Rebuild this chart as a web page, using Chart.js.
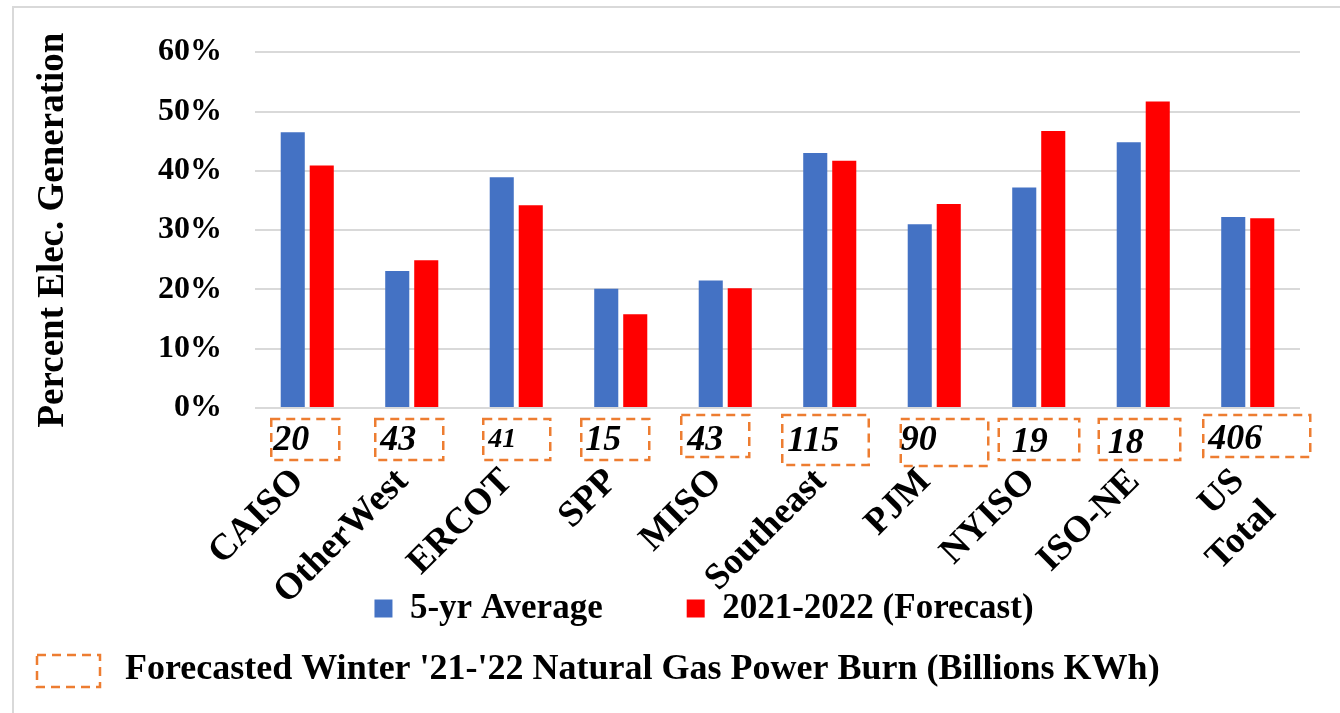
<!DOCTYPE html>
<html>
<head>
<meta charset="utf-8">
<script src="https://cdn.jsdelivr.net/npm/chart.js@4.4.1/dist/chart.umd.min.js"></script>
<style>
  html, body { margin: 0; padding: 0; background: #ffffff; }
  #wrap { width: 1340px; height: 713px; position: relative; }
</style>
</head>
<body>
<div id="wrap"><canvas id="c" width="1340" height="713"></canvas></div>
<script>
// ---- data ----
const categories = ['CAISO', 'OtherWest', 'ERCOT', 'SPP', 'MISO', 'Southeast', 'PJM', 'NYISO', 'ISO-NE', ['US', 'Total']];
const fiveYrAverage = [46.5, 23.1, 38.9, 20.1, 21.5, 43.0, 31.0, 37.2, 44.8, 32.2];
const forecast2122 = [40.9, 24.9, 34.2, 15.8, 20.2, 41.7, 34.4, 46.7, 51.7, 32.0];
const powerBurn = [20, 43, 41, 15, 43, 115, 90, 19, 18, 406];
const seriesNames = ['5-yr Average', '2021-2022 (Forecast)'];
const yTicks = [0, 10, 20, 30, 40, 50, 60];
const yTitle = 'Percent Elec. Generation';
const footnote = "Forecasted Winter '21-'22 Natural Gas Power Burn (Billions KWh)";

const SERIF = '"Liberation Serif", "Times New Roman", serif';
const ORANGE = '#ED7D31';

// layout of the dashed boxes under each category (relative to category centre)
// [leftOffset, rightOffset, top, bottom, textDx, baseline, fontSize]
const boxLayout = [
  [-36, 32, 419, 460, 2, 450, 36],
  [-36.5, 31.5, 419, 460, 5, 450, 36],
  [-33, 34, 419, 460, 5, 447, 28],
  [-39.5, 28.5, 419, 460, 4, 450, 36],
  [-44, 24, 415, 457, 6, 450, 36],
  [-47.5, 39, 415, 465, 5, 451, 36],
  [-33.5, 54, 419, 466, 0, 450, 36],
  [-40, 40.5, 419, 460, 13, 452, 36],
  [-44.5, 37, 419, 460, 9, 453, 36],
  [-44.5, 62.5, 415, 457, 5, 449, 36]
];

const decorPlugin = {
  id: 'decor',
  beforeDraw(chart) {
    const ctx = chart.ctx;
    ctx.save();
    ctx.fillStyle = '#ffffff';
    ctx.fillRect(0, 0, chart.width, chart.height);
    ctx.strokeStyle = '#d9d9d9';
    ctx.lineWidth = 2;
    ctx.beginPath();
    ctx.moveTo(13, chart.height + 5);
    ctx.lineTo(13, 7);
    ctx.lineTo(chart.width + 5, 7);
    ctx.stroke();
    ctx.restore();
  },
  afterDraw(chart) {
    const ctx = chart.ctx;
    const xs = chart.scales.x;
    ctx.save();
    ctx.strokeStyle = ORANGE;
    ctx.lineWidth = 2.5;
    ctx.setLineDash([9, 6]);
    powerBurn.forEach((v, i) => {
      const cx = xs.getPixelForValue(i);
      const [l, r, t, b, dx, base, fs] = boxLayout[i];
      ctx.strokeRect(cx + l, t, r - l, b - t);
      ctx.fillStyle = '#000000';
      ctx.font = 'italic bold ' + fs + 'px ' + SERIF;
      ctx.textBaseline = 'alphabetic';
      ctx.textAlign = 'left';
      ctx.fillText(String(v), cx + l + dx, base);
    });
    // footnote
    ctx.strokeRect(37, 655, 63, 32);
    ctx.setLineDash([]);
    ctx.fillStyle = '#000000';
    ctx.font = 'bold 36px ' + SERIF;
    ctx.textAlign = 'left';
    ctx.textBaseline = 'alphabetic';
    ctx.fillText(footnote, 125, 679);
    ctx.restore();
  }
};

new Chart(document.getElementById('c'), {
  type: 'bar',
  data: {
    labels: categories,
    datasets: [
      { label: seriesNames[0], data: fiveYrAverage, backgroundColor: '#4472C4',
        categoryPercentage: 0.555, barPercentage: 0.83 },
      { label: seriesNames[1], data: forecast2122, backgroundColor: '#FF0000',
        categoryPercentage: 0.555, barPercentage: 0.83 }
    ]
  },
  options: {
    responsive: false,
    animation: false,
    layout: { padding: { top: 50, left: 108, right: 40, bottom: 77 } },
    plugins: {
      tooltip: { enabled: false },
      legend: {
        position: 'bottom',
        labels: {
          boxWidth: 18, boxHeight: 18, padding: 84,
          color: '#000000',
          font: { family: SERIF, size: 35, weight: 'bold' }
        }
      }
    },
    scales: {
      x: {
        grid: { display: false },
        border: { display: false },
        ticks: {
          autoSkip: false, maxRotation: 45, minRotation: 45, padding: 44,
          labelOffset: -9,
          color: '#000000',
          font: { family: SERIF, size: 37, weight: 'bold' }
        },
        afterFit(scale) {
          scale.height = 99;
          scale.paddingLeft = 0;
          scale.paddingRight = 0;
          // let the rotated labels run below the (short) axis box
          scale._computeLabelArea = function () { return undefined; };
        }
      },
      y: {
        min: 0, max: 60,
        afterBuildTicks(scale) { scale.ticks = yTicks.map(v => ({ value: v })); },
        grid: { color: '#d9d9d9', lineWidth: 2, drawTicks: false },
        border: { display: false },
        ticks: {
          padding: 33, color: '#000000',
          font: { family: SERIF, size: 32, weight: 'bold' },
          callback: v => v + '%'
        },
        title: {
          display: true, text: yTitle, color: '#000000',
          padding: { top: -77, bottom: 0 },
          font: { family: SERIF, size: 37, weight: 'bold' }
        },
        afterFit(scale) { scale.width = 147; }
      }
    }
  },
  plugins: [decorPlugin]
});
</script>
</body>
</html>
